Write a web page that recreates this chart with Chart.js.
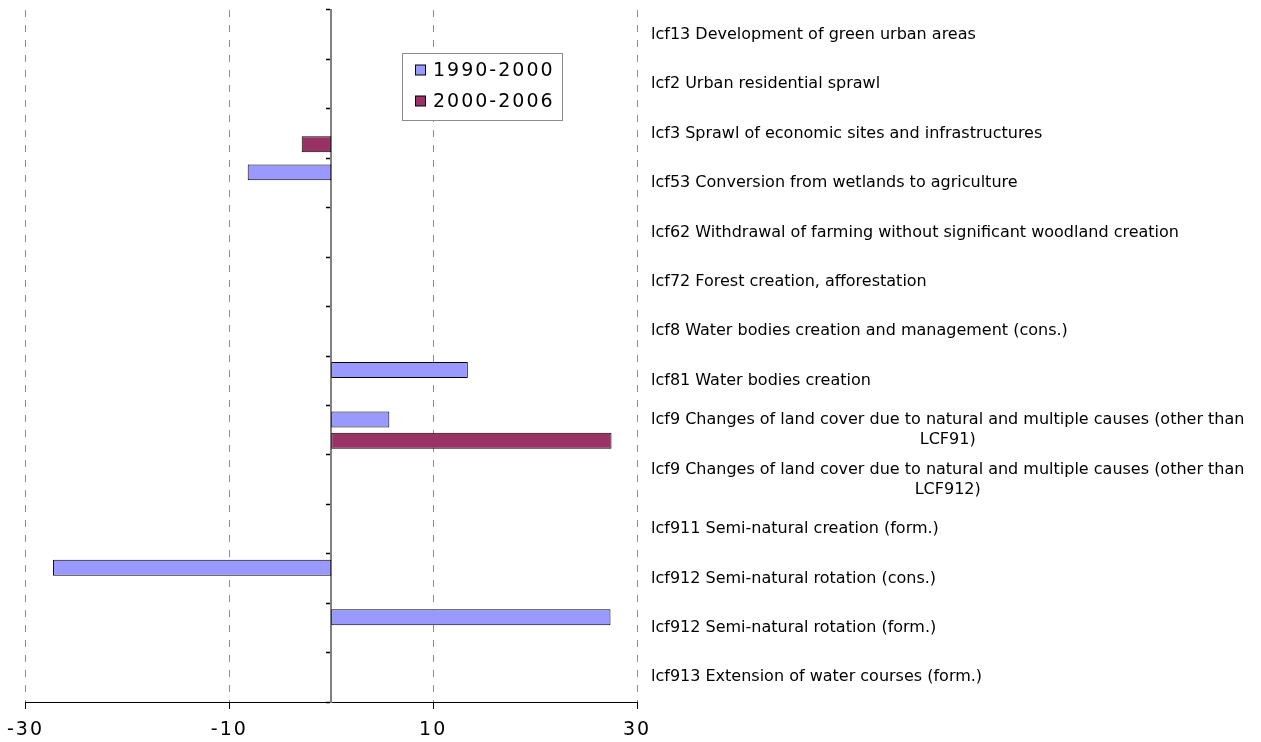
<!DOCTYPE html>
<html>
<head>
<meta charset="utf-8">
<script src="https://cdn.jsdelivr.net/npm/chart.js@4/dist/chart.umd.min.js"></script>
<style>
  html, body { margin: 0; padding: 0; background: #ffffff; }
  canvas { display: block; }
</style>
</head>
<body>
<canvas id="chart" width="1261" height="742"></canvas>
<script>
// Land cover flow categories (each entry is the list of lines of its label)
const categories = [
  ['lcf13 Development of green urban areas'],
  ['lcf2 Urban residential sprawl'],
  ['lcf3 Sprawl of economic sites and infrastructures'],
  ['lcf53 Conversion from wetlands to agriculture'],
  ['lcf62 Withdrawal of farming without significant woodland creation'],
  ['lcf72 Forest creation, afforestation'],
  ['lcf8 Water bodies creation and management (cons.)'],
  ['lcf81 Water bodies creation'],
  ['lcf9 Changes of land cover due to natural and multiple causes (other than', 'LCF91)'],
  ['lcf9 Changes of land cover due to natural and multiple causes (other than', 'LCF912)'],
  ['lcf911 Semi-natural creation (form.)'],
  ['lcf912 Semi-natural rotation (cons.)'],
  ['lcf912 Semi-natural rotation (form.)'],
  ['lcf913 Extension of water courses (form.)']
];

const seriesNames = ['1990-2000', '2000-2006'];

const values1990 = [null, null, null, -8.2, null, null, null, 13.4, 5.7, null, null, -27.3, 27.4, null];
const values2000 = [null, null, -2.9, null, null, null, null, null, 27.5, null, null, null, null, null];

const xTickValues = [-30, -10, 10, 30];

const SPACED = 'letterSpacing' in CanvasRenderingContext2D.prototype;

// Legend drawn in a framed box inside the plot
const boxLegend = {
  id: 'boxLegend',
  afterDraw(chart, args, opts) {
    const ctx = chart.ctx;
    ctx.save();
    ctx.setLineDash([]);
    ctx.fillStyle = '#ffffff';
    ctx.fillRect(opts.left, opts.top, opts.width, opts.height);
    ctx.strokeStyle = '#8c8c8c';
    ctx.lineWidth = 1;
    ctx.strokeRect(opts.left + 0.5, opts.top + 0.5, opts.width, opts.height);
    ctx.font = '19px "DejaVu Sans"';
    if (SPACED) ctx.letterSpacing = '2px';
    ctx.textAlign = 'left';
    ctx.textBaseline = 'middle';
    chart.data.datasets.forEach((ds, i) => {
      const y = opts.top + opts.firstRow + i * opts.rowGap;
      ctx.fillStyle = ds.backgroundColor;
      ctx.fillRect(opts.left + 13.5, y - 5, 10, 10);
      ctx.strokeStyle = '#000000';
      ctx.strokeRect(opts.left + 13.5, y - 5, 10, 10);
      ctx.fillStyle = '#000000';
      ctx.fillText(ds.label, opts.left + 31, y + 1);
    });
    ctx.restore();
  }
};

// Category names written to the right of the plot, wrapped lines centred on the block
const sideLabels = {
  id: 'sideLabels',
  afterDraw(chart) {
    const ctx = chart.ctx;
    const yScale = chart.scales.y;
    const x0 = chart.chartArea.right + 14;
    ctx.save();
    if (SPACED) ctx.letterSpacing = '0px';
    ctx.font = '16px "DejaVu Sans"';
    ctx.fillStyle = '#000000';
    ctx.textBaseline = 'middle';
    ctx.textAlign = 'center';
    chart.data.labels.forEach((lines, i) => {
      const yc = yScale.getPixelForValue(i);
      const maxW = Math.max(...lines.map(l => ctx.measureText(l).width));
      lines.forEach((line, j) => {
        const y = yc + (j - (lines.length - 1) / 2) * 20;
        ctx.fillText(line, x0 + maxW / 2, y);
      });
    });
    ctx.restore();
  }
};

// Wide tracking for the value axis numbers
const tracking = {
  id: 'tracking',
  beforeDraw(chart) {
    if (SPACED) chart.ctx.letterSpacing = '2px';
  }
};

new Chart(document.getElementById('chart'), {
  type: 'bar',
  data: {
    labels: categories,
    datasets: [
      {
        label: seriesNames[0],
        data: values1990,
        backgroundColor: '#9999ff',
        borderColor: '#000000',
        borderWidth: 1,
        borderSkipped: false
      },
      {
        label: seriesNames[1],
        data: values2000,
        backgroundColor: '#993366',
        borderColor: '#000000',
        borderWidth: 1,
        borderSkipped: false
      }
    ]
  },
  options: {
    indexAxis: 'y',
    responsive: false,
    animation: false,
    devicePixelRatio: 1,
    categoryPercentage: 0.86,
    barPercentage: 0.75,
    layout: { padding: { left: 24, right: 624, top: 10, bottom: 0 } },
    plugins: {
      legend: { display: false },
      tooltip: { enabled: false },
      boxLegend: { left: 402, top: 53, width: 160, height: 67, firstRow: 17, rowGap: 31 }
    },
    scales: {
      x: {
        type: 'linear',
        min: -30,
        max: 30,
        afterBuildTicks(scale) {
          scale.ticks = xTickValues.map(v => ({ value: v }));
        },
        afterFit(scale) { scale.height = 40; },
        grid: {
          color: '#8c8c8c',
          lineWidth: 1,
          drawTicks: true,
          tickLength: 7,
          tickColor: '#000000',
          tickWidth: 1,
          tickBorderDash: []
        },
        border: { display: true, color: '#000000', width: 1, dash: [7, 8] },
        ticks: {
          color: '#000000',
          padding: 10,
          font: { family: 'DejaVu Sans', size: 19 }
        }
      },
      y: {
        type: 'category',
        position: { x: 0 },
        offset: true,
        z: 1,
        grid: {
          offset: true,
          drawOnChartArea: false,
          drawTicks: true,
          tickLength: 4,
          tickColor: '#000000',
          tickWidth: 1.5
        },
        border: { display: true, color: '#808080', width: 2 },
        ticks: { display: false }
      }
    }
  },
  plugins: [tracking, sideLabels, boxLegend]
});
</script>
</body>
</html>
